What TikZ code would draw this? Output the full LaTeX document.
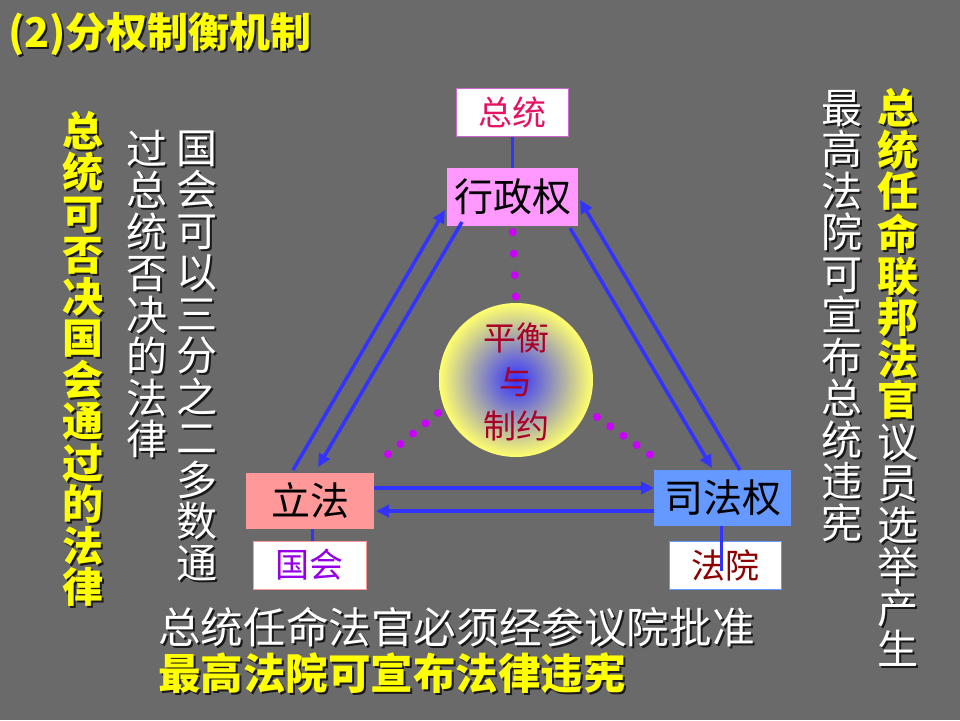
\documentclass[tikz,border=0pt]{standalone}
\usepackage{fontspec}
\setmainfont{Noto Sans CJK SC}
\usetikzlibrary{arrows.meta,calc}
\definecolor{bg}{RGB}{106,106,106}
\definecolor{execc}{RGB}{255,153,255}
\definecolor{legc}{RGB}{255,153,153}
\definecolor{judc}{RGB}{102,153,255}
\definecolor{presc}{RGB}{228,20,100}
\definecolor{presb}{RGB}{204,102,204}
\definecolor{congc}{RGB}{150,0,230}
\definecolor{courtc}{RGB}{140,0,0}
\definecolor{circc}{RGB}{170,0,40}
\definecolor{lineblue}{RGB}{51,51,255}
\definecolor{dotc}{RGB}{204,0,255}
\definecolor{ylw}{RGB}{255,255,0}
\definecolor{cyel}{RGB}{255,255,110}
\definecolor{cblue}{RGB}{50,50,255}
\makeatletter
\newcommand{\sh}[1]{\rlap{\kern2pt\raisebox{-2pt}{\color{black!90}#1}}#1}
\newcommand{\vst}[1]{\vbox{\@tfor\vst@c:=#1\do{\hbox{\sh{\vst@c}}}}}
\makeatother
\begin{document}
\begin{tikzpicture}[x=1pt,y=-1pt,
  box/.style={inner sep=0pt, font=\fontsize{39}{40}\selectfont, text=black},
  smallbox/.style={inner sep=0pt, minimum width=112pt, minimum height=48pt, fill=white, line width=1pt, font=\fontsize{34}{35}\selectfont},
  vtext/.style={inner sep=0pt, font=\fontsize{41}{41.5}\selectfont, text=white},
  vtextb/.style={vtext, text=ylw, font=\fontsize{41}{41.5}\selectfont\bfseries},
  htext/.style={inner sep=0pt, font=\fontsize{42.6}{44}\selectfont, text=white, anchor=west},
  arr/.style={draw=lineblue, line width=3.5pt, -{Triangle[length=13pt,width=12pt]}, fill=lineblue},
  conn/.style={draw=lineblue, line width=3pt},
  dotline/.style={draw=dotc, line width=8pt, line cap=round, dash pattern=on 0pt off 21.5pt},
  dotline2/.style={draw=dotc, line width=8pt, line cap=round, dash pattern=on 0pt off 16.2pt}]
\fill[bg] (0,0) rectangle (960,720);
\useasboundingbox (0,0) rectangle (960,720);

% title
\node[anchor=west, inner sep=0pt, text=ylw, font=\fontsize{41}{42}\selectfont\bfseries] (title) at (8,35) {\sh{(2)分权制衡机制}};

% boxes
\node[smallbox, draw=presb, text=presc] (pres) at (512,112) {总统};
\node[box, fill=execc, minimum width=131pt, minimum height=58pt] (exec) at (512.5,197) {行政权};
\node[box, fill=legc, minimum width=128pt, minimum height=56pt] (leg) at (310,501) {立法};
\node[smallbox, minimum width=113pt, draw=legc, text=congc] (cong) at (309.5,565) {国会};
\node[box, fill=judc, minimum width=137pt, minimum height=56pt] (jud) at (722.5,498) {司法权};
\node[smallbox, draw=judc, text=courtc] (court) at (725,565) {法院};

% circle
\node[circle, minimum size=154pt, inner sep=0pt, shading=radial, inner color=cblue, outer color=cyel] (circ) at (516,380) {};
\node[align=center, inner sep=0pt, text=circc, font=\fontsize{33}{44}\selectfont] (circt) at (516,382) {平衡\\与\\制约};

% connectors
\draw[conn] (pres.south) -- (pres.south |- exec.north);
\draw[conn] (leg.south -| 312,0) -- (cong.north -| 312,0);
\coordinate (jc) at (721,571);
\draw[conn] (jud.south -| jc) -- (jc);

% dots
\draw[dotline, shorten <=6pt] (exec.south) -- (circ.north);
\coordinate (d1s) at (438,413);
\coordinate (d1e) at (376,464);
\draw[dotline2] (d1s) -- (d1e);
\coordinate (d2s) at (597,417);
\coordinate (d2e) at (662,463);
\draw[dotline2] (d2s) -- (d2e);

% arrows
\coordinate (a1s) at (293,470); \coordinate (a1e) at (445,210);
\coordinate (a2s) at (462,222); \coordinate (a2e) at (318,467);
\coordinate (a3s) at (570,228); \coordinate (a3e) at (712,468);
\coordinate (a4s) at (740,470); \coordinate (a4e) at (580,200);
\coordinate (a5s) at (374,488); \coordinate (a5e) at (654,488);
\coordinate (a6s) at (654,511); \coordinate (a6e) at (376,511);
\draw[arr] (a1s) -- (a1e);
\draw[arr] (a2s) -- (a2e);
\draw[arr] (a3s) -- (a3e);
\draw[arr] (a4s) -- (a4e);
\draw[arr] (a5s) -- (a5e);
\draw[arr] (a6s) -- (a6e);

% left vertical texts
\node[vtextb] (lv1) at (83,360) {\vst{总统可否决国会通过的法律}};
\node[vtext] (lv2) at (197,357) {\vst{国会可以三分之二多数通}};
\node[vtext] (lv3) at (147,295) {\vst{过总统否决的法律}};

% right vertical texts
\node[vtext] (rv1) at (842,317) {\vst{最高法院可宣布总统违宪}};
\node[vtextb] (rv2) at (898,255) {\vst{总统任命联邦法官}};
\node[vtext] (rv3) at (898,546) {\vst{议员选举产生}};

% bottom texts
\node[htext] (b1) at (158,628) {\sh{总统任命法官必须经参议院批准}};
\node[htext, text=ylw, font=\fontsize{42.5}{44}\selectfont\bfseries] (b2) at (158,674) {\sh{最高法院可宣布法律违宪}};
\end{tikzpicture}
\end{document}
